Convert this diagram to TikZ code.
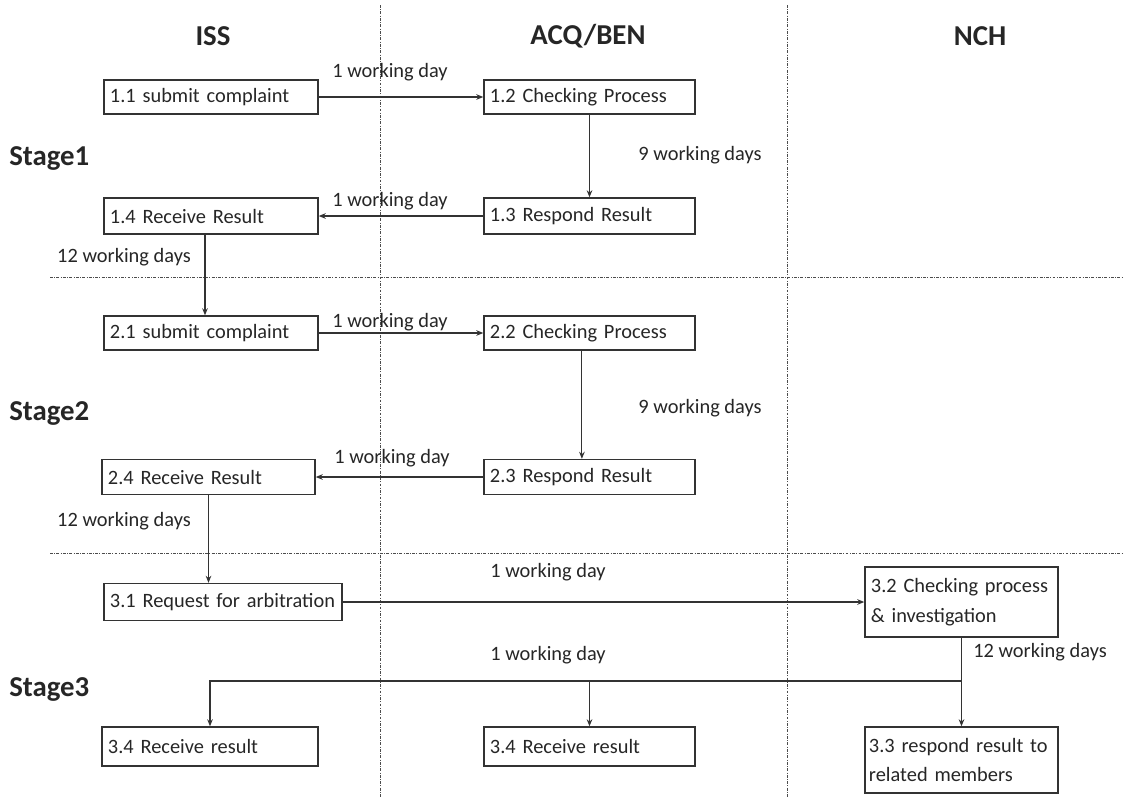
\documentclass[tikz,border=0pt]{standalone}
\usepackage{fontspec}
\setmainfont{Carlito}
\usetikzlibrary{arrows.meta}

\begin{document}
\begin{tikzpicture}[x=0.025cm, y=-0.025cm,
    every node/.style={text=black!85, font=\fontsize{14.5}{21}\selectfont},
    stepbox/.style={draw=black!80, line width=1pt, align=left, inner xsep=0.15cm, inner ysep=0pt, minimum height=0.85cm},
    headline/.style={font=\fontsize{20.5}{24}\selectfont\bfseries},
    lane/.style={black!70, line width=0.5pt, dash pattern=on 2pt off 1pt on 0.6pt off 1pt},
    flow/.style={-{Stealth[length=5pt, width=4pt]}, black!80, line width=0.8pt}]
  \useasboundingbox (0,0) rectangle (1124,798);
  % lanes and stages
  \draw[lane] (380,5) -- (380,798);
  \draw[lane] (787,5) -- (787,798);
  \draw[lane] (50,277) -- (1124,277);
  \draw[lane] (50,553) -- (1124,553);
  \node[headline] (iss) at (213,36) {ISS};
  \node[headline] (acq) at (588,36) {ACQ/BEN};
  \node[headline] (nch) at (980,36) {NCH};
  \node[headline, anchor=west, inner xsep=0pt] (st1) at (9,158) {Stage1};
  \node[headline, anchor=west, inner xsep=0pt] (st2) at (9,413) {Stage2};
  \node[headline, anchor=west, inner xsep=0pt] (st3) at (9,689) {Stage3};
  % stage 1
  \node[stepbox, text width=5.05cm] (b11) at (211,97) {1.1 submit complaint};
  \node[stepbox, text width=4.975cm] (b12) at (589.5,97) {1.2 Checking Process};
  \node[stepbox, text width=4.975cm, minimum height=0.9cm] (b13) at (589.5,216) {1.3 Respond Result};
  \node[stepbox, text width=5.05cm, minimum height=0.9cm] (b14) at (211,216) {1.4 Receive Result};
  \draw[flow] (b11) -- (b12);
  \draw[flow] (b12) -- (b13);
  \draw[flow] (b13) -- (b14);
  \node (d11) at (390,72) {1 working day};
  \node (d12) at (700,155) {9 working days};
  \node (d13) at (390,201) {1 working day};
  \node (d14) at (124,257) {12 working days};
  % stage 2
  \node[stepbox, text width=5.05cm] (b21) at (211,333) {2.1 submit complaint};
  \node[stepbox, text width=4.975cm] (b22) at (589.5,333) {2.2 Checking Process};
  \node[stepbox, text width=4.975cm, minimum height=0.875cm] (b23) at (589.5,477) {2.3 Respond Result};
  \node[stepbox, text width=5.025cm, minimum height=0.875cm] (b24) at (208.5,477) {2.4 Receive Result};
  \draw[flow] ([xshift=-0.15cm]b14.south) -- ([xshift=-0.15cm]b21.north);
  \draw[flow] (b21) -- (b22);
  \draw[flow] ([xshift=-0.19cm]b22.south) -- ([xshift=-0.19cm]b23.north);
  \draw[flow] (b23) -- (b24);
  \node (d21) at (390,322) {1 working day};
  \node (d22) at (700,408) {9 working days};
  \node (d23) at (392,458) {1 working day};
  \node (d24) at (124,521) {12 working days};
  % stage 3
  \node[stepbox, text width=5.65cm, minimum height=0.925cm] (b31) at (223,602) {3.1 Request for arbitration};
  \node[stepbox, text width=4.525cm, minimum height=1.75cm] (b32) at (961.5,602) {3.2 Checking process\\\& investigation};
  \node[stepbox, text width=4.625cm, inner xsep=0.1cm, minimum height=1.65cm] (b33) at (961.5,760) {3.3 respond result to\\related members};
  \node[stepbox, text width=5.1cm, minimum height=0.975cm] (b34a) at (210,746.5) {3.4 Receive result};
  \node[stepbox, text width=4.975cm, minimum height=0.975cm] (b34b) at (589.5,746.5) {3.4 Receive result};
  \draw[flow] (b24) -- (b31.north -| b24.south);
  \draw[flow] (b31) -- (b32);
  \coordinate (jy) at (0,681);
  \coordinate (j) at (b32.south |- jy);
  \draw[flow] (b32) -- (b33);
  \draw[flow] (j) -| (b34a.north);
  \draw[flow] (b34b.north |- j) -- (b34b.north);
  \node (d31) at (548,572) {1 working day};
  \node (d32) at (1040,652) {12 working days};
  \node (d33) at (548,655) {1 working day};
\end{tikzpicture}
\end{document}
